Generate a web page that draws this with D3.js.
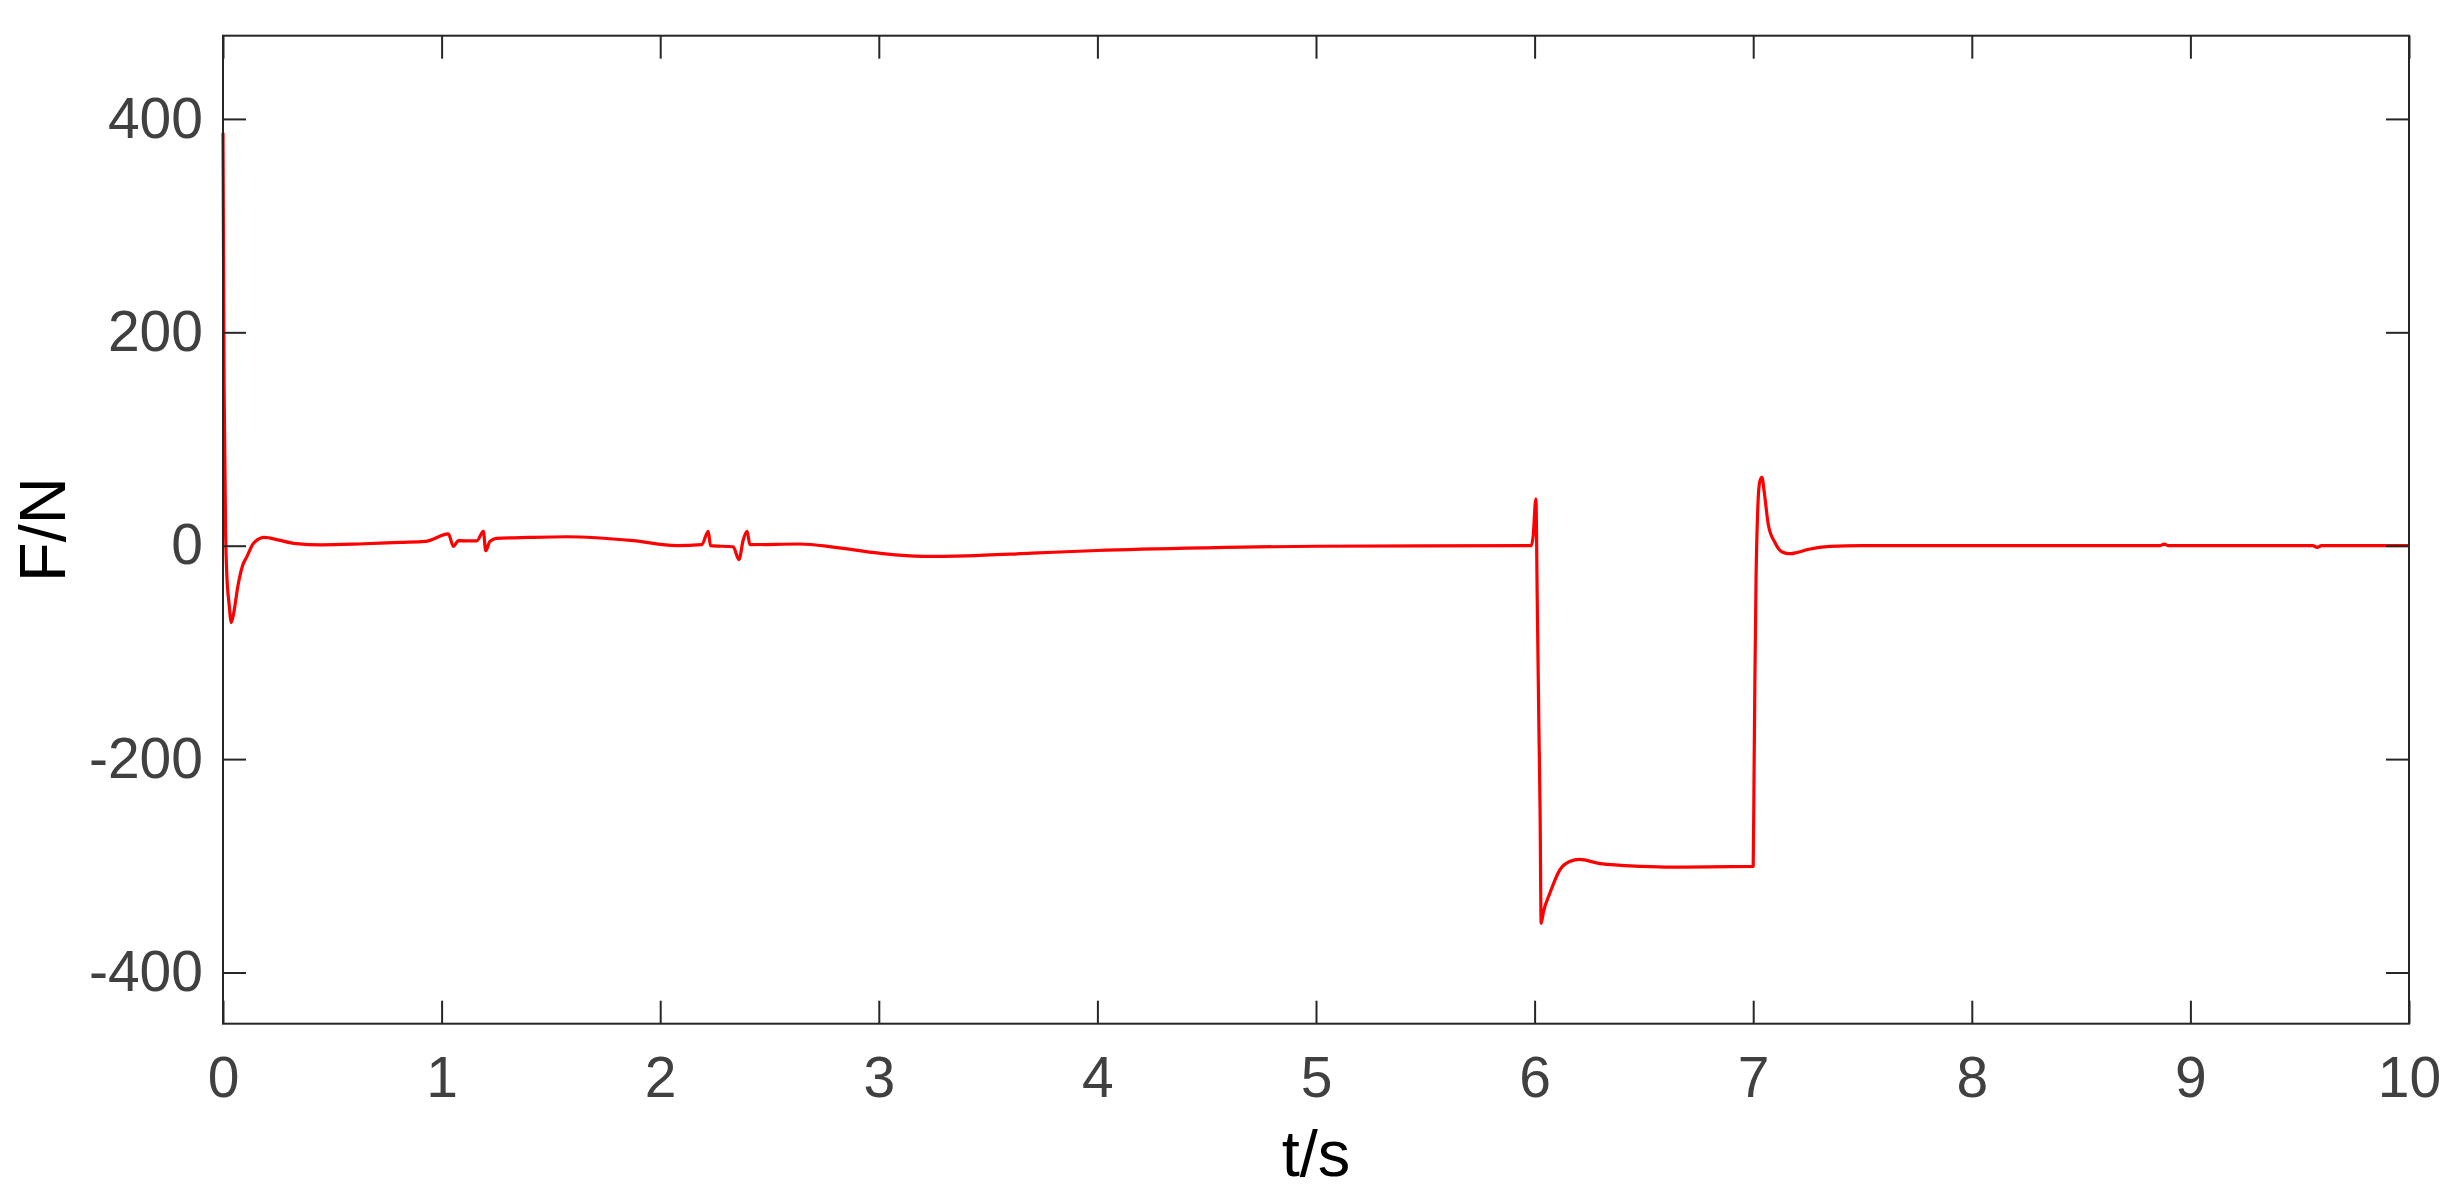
<!DOCTYPE html>
<html>
<head>
<meta charset="utf-8">
<script src="https://cdn.jsdelivr.net/npm/d3@7"></script>
<style>
  body { margin: 0; background: #fff; }
  svg { display: block; }
  .tick text { font-family: "Liberation Sans", Arial, sans-serif; font-size: 57px; fill: #404040; }
  .label { font-family: "Liberation Sans", Arial, sans-serif; font-size: 65px; fill: #000; }
</style>
</head>
<body>
<svg id="chart"></svg>
<script>
// F/N response
const time = [
  0, 0.005, 0.012, 0.017, 0.028, 0.038, 0.05, 0.068, 0.089, 0.11, 0.14, 0.19, 0.25, 0.334, 0.45, 0.62, 0.81, 0.926,
  1.031, 1.054, 1.077, 1.161, 1.191, 1.202, 1.221, 1.252, 1.4, 1.572, 1.876, 2.075, 2.19,
  2.22, 2.23, 2.334, 2.36, 2.38, 2.398, 2.41, 2.64, 2.8, 3.0, 3.2, 3.4, 3.7, 4.0, 4.5, 5.0,
  5.985, 5.993, 6.006, 6.012, 6.02, 6.025, 6.03, 6.04, 6.07, 6.115, 6.16, 6.206, 6.3, 6.49, 6.63, 7.0,
  7.004, 7.008, 7.013, 7.02, 7.03, 7.04, 7.05, 7.07, 7.1, 7.13, 7.17, 7.2, 7.25, 7.35, 7.5,
  8.86, 8.88, 8.9, 9.56, 9.58, 9.6, 10
];
const force = [
  387, 150, 10, -25, -55, -72, -62, -38, -19, -10, 2.5, 7.8, 5.5, 1.9, 0.8, 1.6, 3.1, 4,
  11, -0.6, 4.7, 4.5, 13.4, -4.7, 4, 6.9, 7.8, 8.4, 4.7, 0, 1,
  13.4, 0, -1, -13, 5.6, 13.4, 1, 1.6, -1.5, -7, -10, -9.5, -7, -4.5, -2, -0.5,
  0, 8, 43.8, -49.5, -175, -246.5, -354, -343.6, -325.6, -304, -296, -294, -298, -300.5, -301.2, -300.5,
  -211, -121, -31.5, 29.4, 60, 64, 51, 18.7, 2.8, -5.6, -7.5, -6.4, -3.5, -0.6, 0,
  0, 1.5, 0, 0, -1.5, 0, 0
];
const xTicks = [0, 1, 2, 3, 4, 5, 6, 7, 8, 9, 10];
const yTicks = [-400, -200, 0, 200, 400];

const w = 2450;
const h = 1191;
const mLeft = 223, mRight = 2409, mTop = 35.7, mBottom = 1023.7;

const svg = d3.select('#chart').attr('width', w).attr('height', h);

const x = d3.scaleLinear().domain([0, 10]).range([mLeft, mRight]);
const y = d3.scaleLinear().domain([-448, 478]).range([mBottom, mTop]);

const data = time.map((t, i) => ({ t: t, f: force[i] }));

// plot line
svg.append('path')
  .datum(data)
  .attr('fill', 'none')
  .attr('stroke', '#ff0000')
  .attr('stroke-width', 3.2)
  .attr('stroke-linejoin', 'round')
  .attr('d', d3.line().curve(d3.curveMonotoneX).x((d) => x(d.t)).y((d) => y(d.f)));

// axes, ticks inside like matlab
const styleAxis = (g) => {
  g.select('.domain').remove();
  g.selectAll('.tick line').attr('stroke', '#262626').attr('stroke-width', 2);
};

const plainNum = (d) => String(d); // hyphen minus, not the unicode minus

svg.append('g')
  .attr('transform', `translate(0,${mBottom})`)
  .call(d3.axisBottom(x).tickValues(xTicks).tickSize(-23).tickPadding(33).tickFormat(plainNum))
  .call(styleAxis);

svg.append('g')
  .attr('transform', `translate(0,${mTop})`)
  .call(d3.axisTop(x).tickValues(xTicks).tickSize(-23).tickFormat(''))
  .call(styleAxis);

svg.append('g')
  .attr('transform', `translate(${mLeft},0)`)
  .call(d3.axisLeft(y).tickValues(yTicks).tickSize(-23).tickPadding(20).tickFormat(plainNum))
  .call(styleAxis);

svg.append('g')
  .attr('transform', `translate(${mRight},0)`)
  .call(d3.axisRight(y).tickValues(yTicks).tickSize(-23).tickFormat(''))
  .call(styleAxis);

svg.selectAll('.tick text').attr('fill', '#404040');

// box
svg.append('rect')
  .attr('x', mLeft)
  .attr('y', mTop)
  .attr('width', mRight - mLeft)
  .attr('height', mBottom - mTop)
  .attr('fill', 'none')
  .attr('stroke', '#262626')
  .attr('stroke-width', 2);

// labels
svg.append('text')
  .attr('class', 'label')
  .attr('x', (mLeft + mRight) / 2)
  .attr('y', 1176)
  .attr('text-anchor', 'middle')
  .text('t/s');

svg.append('text')
  .attr('class', 'label')
  .attr('transform', `translate(65,${(mTop + mBottom) / 2}) rotate(-90)`)
  .attr('text-anchor', 'middle')
  .text('F/N');
</script>
</body>
</html>
